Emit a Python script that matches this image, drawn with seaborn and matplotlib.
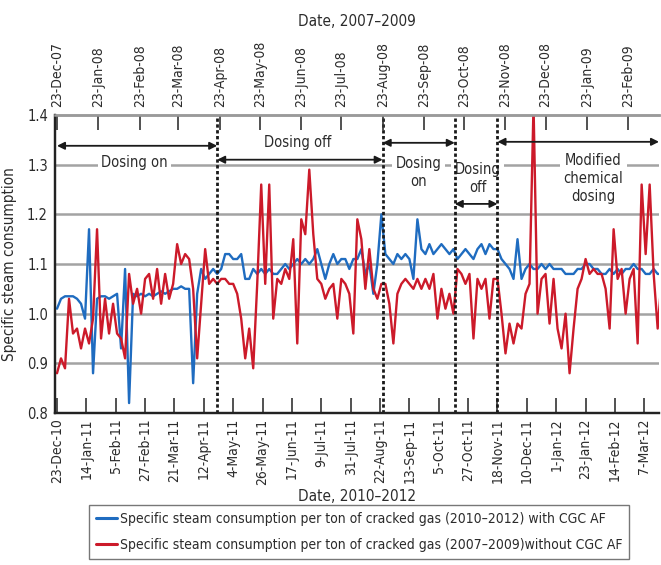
import numpy as np
import pandas as pd
import matplotlib
matplotlib.use("Agg")
import matplotlib.pyplot as plt
from matplotlib.lines import Line2D
import seaborn as sns

# ---- data: one reading every 3 days, starting on 23 Dec (day 0) ----
STEP_DAYS = 3
blue_vals = [1.01, 1.03, 1.035, 1.035, 1.035, 1.03, 1.02, 0.99, 1.17, 0.88,
             1.03, 1.035, 1.035, 1.03, 1.035, 1.04, 0.93, 1.09, 0.82, 1.04,
             1.035, 1.04, 1.035, 1.04, 1.035, 1.04, 1.045, 1.04, 1.045, 1.05,
             1.05, 1.055, 1.05, 1.05, 0.86, 1.04, 1.09, 1.07, 1.08, 1.09,
             1.08, 1.09, 1.12, 1.12, 1.11, 1.11, 1.12, 1.07, 1.07, 1.09,
             1.08, 1.09, 1.08, 1.09, 1.08, 1.08, 1.09, 1.10, 1.09, 1.10,
             1.11, 1.10, 1.11, 1.10, 1.11, 1.13, 1.10, 1.07, 1.10, 1.12,
             1.10, 1.11, 1.11, 1.09, 1.11, 1.11, 1.13, 1.08, 1.10, 1.04,
             1.10, 1.20, 1.12, 1.11, 1.10, 1.12, 1.11, 1.12, 1.11, 1.07,
             1.19, 1.13, 1.12, 1.14, 1.12, 1.13, 1.14, 1.13, 1.12, 1.13,
             1.11, 1.12, 1.13, 1.12, 1.11, 1.13, 1.14, 1.12, 1.14, 1.13,
             1.13, 1.11, 1.10, 1.09, 1.07, 1.15, 1.07, 1.09, 1.10, 1.09,
             1.09, 1.10, 1.09, 1.10, 1.09, 1.09, 1.09, 1.08, 1.08, 1.08,
             1.09, 1.09, 1.10, 1.10, 1.09, 1.09, 1.08, 1.08, 1.09, 1.08,
             1.09, 1.08, 1.09, 1.09, 1.10, 1.09, 1.09, 1.08, 1.08, 1.09,
             1.08, 1.08]
red_vals = [0.88, 0.91, 0.89, 1.03, 0.96, 0.97, 0.93, 0.97, 0.94, 0.99,
            1.17, 0.95, 1.03, 0.96, 1.02, 0.96, 0.95, 0.91, 1.08, 1.02,
            1.05, 1.00, 1.07, 1.08, 1.03, 1.09, 1.02, 1.08, 1.03, 1.06,
            1.14, 1.10, 1.12, 1.11, 1.05, 0.91, 1.02, 1.13, 1.06, 1.07,
            1.06, 1.07, 1.07, 1.06, 1.06, 1.04, 0.99, 0.91, 0.97, 0.89,
            1.06, 1.26, 1.06, 1.26, 0.99, 1.07, 1.06, 1.09, 1.07, 1.15,
            0.94, 1.19, 1.16, 1.29, 1.16, 1.07, 1.06, 1.03, 1.05, 1.06,
            0.99, 1.07, 1.06, 1.04, 0.96, 1.19, 1.15, 1.05, 1.13, 1.05,
            1.03, 1.06, 1.06, 1.02, 0.94, 1.04, 1.06, 1.07, 1.06, 1.05,
            1.07, 1.05, 1.07, 1.05, 1.08, 0.99, 1.05, 1.01, 1.04, 1.00,
            1.09, 1.08, 1.06, 1.08, 0.95, 1.07, 1.05, 1.07, 0.99, 1.07,
            1.07, 1.00, 0.92, 0.98, 0.94, 0.98, 0.97, 1.04, 1.06, 1.42,
            1.00, 1.07, 1.08, 0.98, 1.07, 0.97, 0.93, 1.00, 0.88, 0.97,
            1.05, 1.07, 1.11, 1.08, 1.09, 1.08, 1.08, 1.05, 0.97, 1.17,
            1.07, 1.09, 1.00, 1.07, 1.09, 0.94, 1.26, 1.12, 1.26, 1.08,
            0.97, 1.07]

blue_label = "Specific steam consumption per ton of cracked gas (2010\u20132012) with CGC AF"
red_label = "Specific steam consumption per ton of cracked gas (2007\u20132009)without CGC AF"

bottom_ticks = ["23-Dec-10", "14-Jan-11", "5-Feb-11", "27-Feb-11", "21-Mar-11",
                "12-Apr-11", "4-May-11", "26-May-11", "17-Jun-11", "9-Jul-11",
                "31-Jul-11", "22-Aug-11", "13-Sep-11", "5-Oct-11", "27-Oct-11",
                "18-Nov-11", "10-Dec-11", "1-Jan-12", "23-Jan-12", "14-Feb-12",
                "7-Mar-12"]
top_ticks = ["23-Dec-07", "23-Jan-08", "23-Feb-08", "23-Mar-08", "23-Apr-08",
             "23-May-08", "23-Jun-08", "23-Jul-08", "23-Aug-08", "23-Sep-08",
             "23-Oct-08", "23-Nov-08", "23-Dec-08", "23-Jan-09", "23-Feb-09"]

# phase boundaries (days from 23-Dec) and phase labels
phase_bounds = [120, 244, 298, 330]
phase_labels = ["Dosing on", "Dosing off", "Dosing\non", "Dosing\noff",
                "Modified\nchemical\ndosing"]

X_MAX = 451

# ---- styling ----
sns.set_theme(style="white")
plt.rcParams["font.family"] = ["DejaVu Sans"]
plt.rcParams["font.stretch"] = "condensed"
TXT = "#2b2b2b"
BLUE = "#1f6cc0"
RED = "#cc1a2a"

days = np.arange(len(blue_vals)) * STEP_DAYS
df = pd.DataFrame({
    "day": np.concatenate([days, days]),
    "value": blue_vals + red_vals,
    "series": [blue_label] * len(blue_vals) + [red_label] * len(red_vals),
})

fig = plt.figure(figsize=(6.61, 5.65), dpi=100)
ax = fig.add_axes([55 / 661, 1 - 413 / 565, 604 / 661, 298 / 565])

sns.lineplot(data=df, x="day", y="value", hue="series",
             palette={blue_label: BLUE, red_label: RED},
             linewidth=1.7, legend=False, ax=ax, zorder=4)

ax.set_xlim(-1.5, X_MAX)
ax.set_ylim(0.8, 1.4)
ax.set_yticks([0.8, 0.9, 1.0, 1.1, 1.2, 1.3, 1.4])
ax.set_yticklabels([f"{v:.1f}" for v in [0.8, 0.9, 1.0, 1.1, 1.2, 1.3, 1.4]])
for v in [0.9, 1.0, 1.1, 1.2, 1.3]:
    ax.axhline(v, color="#a3a3a3", lw=1.8, zorder=1)

# bottom date axis
b0 = pd.to_datetime(bottom_ticks[0], format="%d-%b-%y")
bpos = [(pd.to_datetime(t, format="%d-%b-%y") - b0).days for t in bottom_ticks]
ax.set_xticks(bpos)
ax.set_xticklabels(bottom_ticks, rotation=90)
ax.tick_params(axis="x", direction="in", length=11, width=1.2, color="#333333",
               pad=4, labelsize=10, labelcolor=TXT)
ax.tick_params(axis="y", length=0, pad=5, labelsize=10.5, labelcolor=TXT)
ax.set_xlabel("Date, 2010\u20132012", fontsize=11, color=TXT, labelpad=3)
ax.set_ylabel("Specific steam consumption", fontsize=11, color=TXT, labelpad=7)

# top date axis
ax2 = ax.twiny()
ax2.set_xlim(ax.get_xlim())
t0 = pd.to_datetime(top_ticks[0], format="%d-%b-%y")
tpos = [(pd.to_datetime(t, format="%d-%b-%y") - t0).days for t in top_ticks]
ax2.set_xticks(tpos)
ax2.set_xticklabels(top_ticks, rotation=90)
ax2.tick_params(axis="x", direction="in", length=11, width=1.2, color="#333333",
                pad=6, labelsize=10, labelcolor=TXT)
ax2.set_xlabel("Date, 2007\u20132009", fontsize=11, color=TXT, labelpad=10)

for a in (ax, ax2):
    a.spines["right"].set_visible(False)
    a.spines["left"].set_color("#222222")
    a.spines["left"].set_linewidth(1.6)
    a.spines["bottom"].set_color("#222222")
    a.spines["bottom"].set_linewidth(1.6)
    a.spines["top"].set_color("#9a9a9a")
    a.spines["top"].set_linewidth(1.8)

# phase boundaries
for b in phase_bounds:
    ax.axvline(b, color="#1a1a1a", lw=2.0, linestyle=(0, (1.2, 0.9)), zorder=5)

# phase arrows and labels
edges = [0] + phase_bounds + [X_MAX]
arrow_y = [1.338, 1.310, 1.344, 1.221, 1.346]
label_xy = [(58, 1.305), (180, 1.344), (271, 1.285), (315, 1.273), (402, 1.273)]
for i, lab in enumerate(phase_labels):
    ax.annotate("", xy=(edges[i + 1], arrow_y[i]), xytext=(edges[i], arrow_y[i]),
                arrowprops=dict(arrowstyle="<|-|>", color="#1a1a1a", lw=1.3,
                                shrinkA=0, shrinkB=0, mutation_scale=11),
                zorder=6, annotation_clip=False)
    ax.text(label_xy[i][0], label_xy[i][1], lab, ha="center", va="center",
            fontsize=10.5, color=TXT, linespacing=1.25, zorder=3,
            bbox=dict(facecolor="white", edgecolor="none", pad=2.5))

# legend
handles = [Line2D([0], [0], color=BLUE, lw=2.2), Line2D([0], [0], color=RED, lw=2.2)]
leg = fig.legend(handles, [blue_label, red_label], loc="upper center",
                 bbox_to_anchor=(359 / 661, 1 - 505 / 565), frameon=True,
                 fancybox=False, edgecolor="#555555", fontsize=10,
                 handlelength=1.5, handletextpad=0.2, borderpad=0.5,
                 labelspacing=0.85, borderaxespad=0)
for t in leg.get_texts():
    t.set_color(TXT)
leg.get_frame().set_linewidth(1.0)

fig.savefig("out.png", dpi=100)
